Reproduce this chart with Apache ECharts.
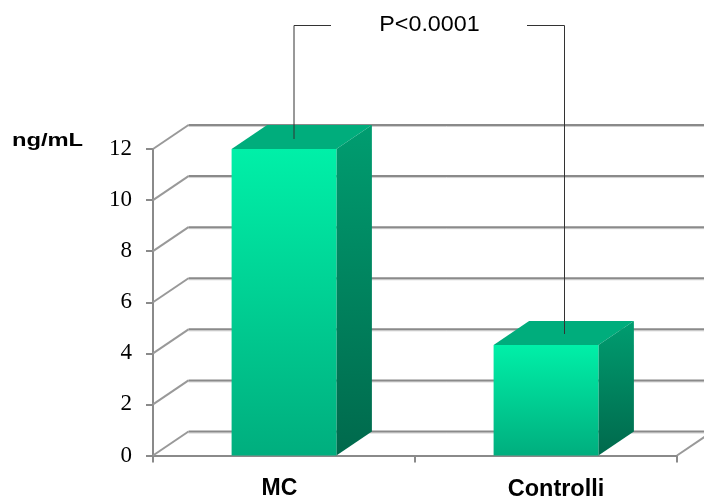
<!DOCTYPE html>
<html>
<head>
<meta charset="utf-8">
<style>
  html, body { margin: 0; padding: 0; background: #fff; }
  #chart { width: 704px; height: 497px; }
</style>
<script src="https://cdn.jsdelivr.net/npm/echarts@6/dist/echarts.min.js"></script>
</head>
<body>
<div id="chart"></div>
<script>
var categories = ["MC", "Controlli"];
var values = [12, 4.33];
var yTicks = [0, 2, 4, 6, 8, 10, 12];

var depthX = 35.5;
var depthY = 24;
var gridColor = "#8a8a8a";

var chart = echarts.init(document.getElementById("chart"));

function renderWall(params, api) {
  var sys = params.coordSys;
  var y = api.coord([categories[0], api.value(0)])[1];
  var left = sys.x;
  var children = [
    {
      type: "line",
      shape: { x1: left, y1: y, x2: left + depthX, y2: y - depthY },
      style: { stroke: "#999", lineWidth: 2 }
    },
    {
      type: "line",
      shape: { x1: left + depthX, y1: y - depthY + 1.5, x2: 704, y2: y - depthY + 1.5 },
      style: { stroke: "#cfcfcf", lineWidth: 1 }
    },
    {
      type: "line",
      shape: { x1: left + depthX, y1: y - depthY, x2: 704, y2: y - depthY },
      style: { stroke: gridColor, lineWidth: 2 }
    }
  ];
  if (api.value(0) === 0) {
    var right = sys.x + sys.width;
    children.push({
      type: "line",
      shape: { x1: right, y1: y, x2: right + depthX, y2: y - depthY },
      style: { stroke: "#999", lineWidth: 2 }
    });
  }
  return { type: "group", children: children };
}

function renderBar(params, api) {
  var base = api.coord([api.value(0), 0]);
  var top = api.coord([api.value(0), api.value(1)]);
  var w = api.size([1, 0])[0] * 0.4;
  var x0 = base[0] - w / 2;
  var x1 = base[0] + w / 2;
  return {
    type: "group",
    children: [
      {
        type: "polygon",
        shape: { points: [[x0, top[1]], [x0 + depthX, top[1] - depthY], [x1 + depthX, top[1] - depthY], [x1, top[1]]] },
        style: { fill: "#00ad7c" }
      },
      {
        type: "polygon",
        shape: { points: [[x1, top[1]], [x1 + depthX, top[1] - depthY], [x1 + depthX, base[1] - depthY], [x1, base[1]]] },
        style: {
          fill: new echarts.graphic.LinearGradient(0, 0, 0, 1, [
            { offset: 0, color: "#009d70" },
            { offset: 1, color: "#00694c" }
          ])
        }
      },
      {
        type: "rect",
        shape: { x: x0, y: top[1], width: w, height: base[1] - top[1] },
        style: {
          fill: new echarts.graphic.LinearGradient(0, 0, 0, 1, [
            { offset: 0, color: "#00f0a8" },
            { offset: 1, color: "#00ae7e" }
          ])
        }
      }
    ]
  };
}

function bracket(points) {
  return {
    type: "polyline",
    z: 100,
    shape: { points: points },
    style: { stroke: "#333", lineWidth: 1, fill: null }
  };
}

function label(text, x, y, size, weight, scaleX) {
  return {
    type: "text",
    z: 100,
    x: x,
    y: y,
    scaleX: scaleX,
    style: {
      text: text,
      fill: "#000",
      font: weight + " " + size + "px 'Liberation Sans'",
      align: "center",
      verticalAlign: "middle"
    }
  };
}

chart.setOption({
  animation: false,
  backgroundColor: "#fff",
  grid: { left: 153, top: 149, width: 524, height: 306.5, containLabel: false, outerBoundsMode: "none" },
  xAxis: {
    type: "category",
    data: [
      { value: categories[0], textStyle: { padding: [0, 9, 0, 0] } },
      { value: categories[1], textStyle: { padding: [0, 0, 0, 20], fontSize: 23.5 } }
    ],
    axisLine: { lineStyle: { color: gridColor, width: 2 } },
    axisTick: { show: true, alignWithLabel: false, length: 7, lineStyle: { color: gridColor, width: 2 } },
    axisLabel: {
      margin: 22,
      color: "#000",
      fontFamily: "Liberation Sans",
      fontWeight: "bold",
      fontSize: 23
    }
  },
  yAxis: {
    type: "value",
    min: 0,
    max: 12,
    interval: 2,
    axisLine: { show: true, lineStyle: { color: gridColor, width: 2 } },
    axisTick: { show: true, length: 7, lineStyle: { color: gridColor, width: 2 } },
    splitLine: { show: false },
    axisLabel: {
      margin: 21,
      color: "#000",
      fontFamily: "Liberation Serif",
      fontSize: 23
    }
  },
  graphic: [
    label("ng/mL", 47.5, 141, 19, "bold", 1.25),
    label("P<0.0001", 429.5, 25, 22, "normal", 1.06),
    bracket([[294, 139], [294, 25.5], [331, 25.5]]),
    bracket([[527, 25.5], [564.5, 25.5], [564.5, 334]])
  ],
  series: [
    {
      type: "custom",
      clip: false,
      z: 1,
      data: yTicks.map(function (t) { return [t]; }),
      encode: { y: 0 },
      renderItem: renderWall
    },
    {
      type: "custom",
      clip: false,
      z: 3,
      data: categories.map(function (c, i) { return [c, values[i]]; }),
      encode: { x: 0, y: 1 },
      renderItem: renderBar
    }
  ]
});
</script>
</body>
</html>
